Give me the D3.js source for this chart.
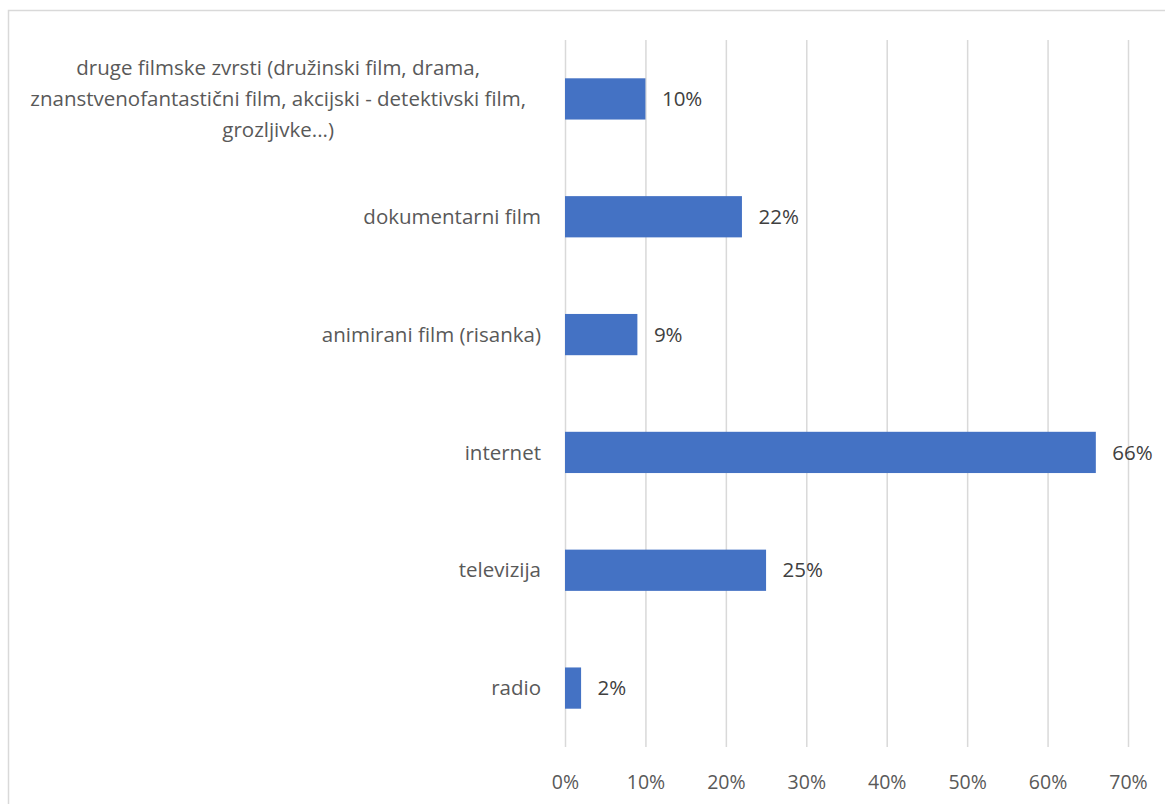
<!DOCTYPE html>
<html>
<head>
<meta charset="utf-8">
<script src="https://cdn.jsdelivr.net/npm/d3@7"></script>
<style>
  body { margin: 0; background: #fff; }
  text { font-family: "Open Sans", "Noto Sans", sans-serif; }
</style>
</head>
<body>
<svg id="drawing_region"></svg>
<script>
// categories top to bottom, values in percent
var categories = [
    ["druge filmske zvrsti (družinski film, drama,", "znanstvenofantastični film, akcijski - detektivski film,", "grozljivke...)"],
    ["dokumentarni film"],
    ["animirani film (risanka)"],
    ["internet"],
    ["televizija"],
    ["radio"]
];
var values = [10, 22, 9, 66, 25, 2];
var ticks = [0, 10, 20, 30, 40, 50, 60, 70];

var config = {
    width: 1165,
    height: 804,
    left: 565,
    right: 1128,
    top: 40,
    bottom: 747
};

var svg = d3.select('#drawing_region')
    .attr('width', config.width)
    .attr('height', config.height);

// chart border
svg.append('rect')
    .attr('x', 8.5).attr('y', 10.5)
    .attr('width', 1200).attr('height', 900)
    .attr('fill', 'none')
    .attr('stroke', '#d9d9d9')
    .attr('stroke-width', 1.5);

var xscale = d3.scaleLinear()
    .domain([0, 70])
    .range([config.left, config.right]);

var yscale = d3.scaleBand()
    .domain(d3.range(categories.length))
    .range([config.top, config.bottom])
    .paddingInner(0.65)
    .paddingOuter(0.325);

// gridlines + tick labels
var xaxis = d3.axisBottom(xscale)
    .tickValues(ticks)
    .tickSize(-(config.bottom - config.top))
    .tickPadding(28)
    .tickFormat(d => d + '%');

var xaxis_group = svg.append('g')
    .attr('transform', `translate(0, ${config.bottom})`)
    .call(xaxis);
xaxis_group.select('.domain').remove();
xaxis_group.selectAll('.tick line')
    .attr('stroke', '#d9d9d9')
    .attr('stroke-width', 1.5);
xaxis_group.selectAll('.tick text')
    .attr('fill', '#595959')
    .attr('font-size', '19.5px')
    .style('font-family', '"Open Sans", sans-serif');

// bars
svg.append('g').selectAll('rect')
    .data(values)
    .join('rect')
    .attr('x', xscale(0))
    .attr('y', (d, i) => yscale(i))
    .attr('width', d => xscale(d) - xscale(0))
    .attr('height', yscale.bandwidth())
    .attr('fill', '#4472c4');

// value labels
svg.append('g').selectAll('text')
    .data(values)
    .join('text')
    .attr('x', d => xscale(d) + 16.5)
    .attr('y', (d, i) => yscale(i) + yscale.bandwidth() / 2)
    .attr('dy', '0.35em')
    .attr('fill', '#404040')
    .attr('font-size', '20.5px')
    .text(d => d + '%');

// category labels
var lineHeight = 31;
var labelRight = 541;
var labels = svg.append('g').selectAll('text')
    .data(categories)
    .join('text')
    .attr('fill', '#595959')
    .attr('font-size', '20.5px');

labels.each(function (lines, i) {
    var t = d3.select(this);
    var cy = yscale(i) + yscale.bandwidth() / 2;
    lines.forEach((line, j) => {
        t.append('tspan')
            .attr('y', cy + (j - (lines.length - 1) / 2) * lineHeight)
            .attr('dy', '0.35em')
            .text(line);
    });
    var spans = t.selectAll('tspan');
    if (lines.length === 1) {
        t.attr('text-anchor', 'end');
        spans.attr('x', labelRight);
    } else {
        var maxw = d3.max(spans.nodes(), n => n.getComputedTextLength());
        t.attr('text-anchor', 'middle');
        spans.attr('x', labelRight - 15 - maxw / 2);
    }
});
</script>
</body>
</html>
